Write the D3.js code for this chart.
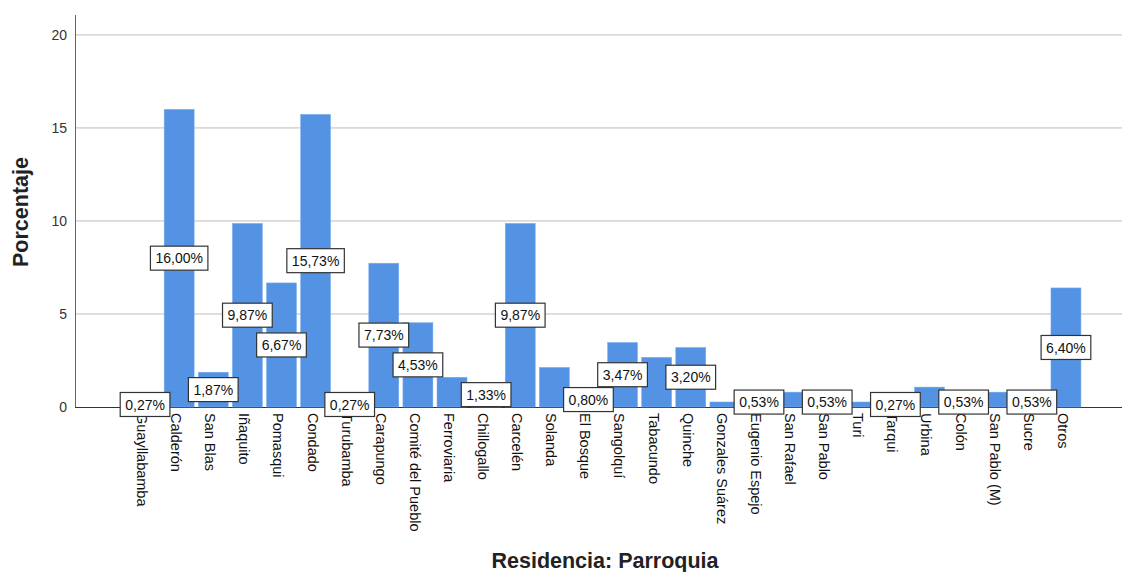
<!DOCTYPE html>
<html><head><meta charset="utf-8">
<script src="https://cdn.jsdelivr.net/npm/d3@7"></script>
<style>body{margin:0;background:#fff;} svg{display:block;font-family:"Liberation Sans",Arial,sans-serif;}</style>
</head><body>
<svg id="c" width="1124" height="572"></svg>
<script>
const categories = ["Guayllabamba","Calderón","San Blas","Iñaquito","Pomasqui","Condado","Turubamba","Carapungo","Comité del Pueblo","Ferroviaria","Chillogallo","Carcelén","Solanda","El Bosque","Sangolquí","Tabacundo","Quinche","Gonzales Suárez","Eugenio Espejo","San Rafael","San Pablo","Turi","Tarqui","Urbina","Colón","San Pablo (M)","Sucre","Otros"];
const values = [0.27,16.00,1.87,9.87,6.67,15.73,0.27,7.73,4.53,1.60,1.33,9.87,2.13,0.80,3.47,2.67,3.20,0.27,0.53,0.80,0.53,0.27,0.27,1.07,0.53,0.80,0.53,6.40];
const showLabel = [1,1,1,1,1,1,1,1,1,0,1,1,0,1,1,0,1,0,1,0,1,0,1,0,1,0,1,1];
const yTicks = [0,5,10,15,20];
const yTitle = "Porcentaje";
const xTitle = "Residencia: Parroquia";

const svg = d3.select("#c");
const x0 = 75, x1 = 1122, yBase = 407, yTop = 15;
const y = d3.scaleLinear().domain([0, 21.07]).range([yBase, yTop]);
const x = d3.scaleBand().domain(categories).range([128, 1083]).paddingInner(0.12).paddingOuter(0.06);

// gridlines
svg.append("g").selectAll("line").data(yTicks.filter(d=>d>0)).join("line")
  .attr("x1", x0).attr("x2", x1).attr("y1", d=>y(d)).attr("y2", d=>y(d))
  .attr("stroke", "#bdbdbd").attr("stroke-width", 1);

// y axis
const ya = svg.append("g").attr("transform", `translate(${x0},0)`)
  .call(d3.axisLeft(y).tickValues(yTicks).tickSize(0).tickPadding(8));
ya.select(".domain").remove();
ya.selectAll("text").attr("font-size", 14).attr("fill", "#333").attr("font-family", "Liberation Sans, Arial, sans-serif");
svg.append("line").attr("x1", x0+0.5).attr("x2", x0+0.5).attr("y1", yTop).attr("y2", yBase)
  .attr("stroke", "#666").attr("stroke-width", 1);

// baseline
svg.append("line").attr("x1", x0).attr("x2", x1).attr("y1", yBase+0.5).attr("y2", yBase+0.5)
  .attr("stroke", "#333").attr("stroke-width", 1);

// bars
svg.append("g").selectAll("rect").data(categories).join("rect")
  .attr("x", d=>x(d)).attr("width", x.bandwidth())
  .attr("y", (d,i)=>y(values[i])).attr("height", (d,i)=>yBase - y(values[i]))
  .attr("fill", "#5493e3").attr("stroke", "#7fb0ee").attr("stroke-width", 0.5);

// category labels
svg.append("g").selectAll("text").data(categories).join("text")
  .attr("transform", d=>`translate(${x(d)+x.bandwidth()/2-3},${yBase+6}) rotate(90)`)
  .attr("dy", "0.35em").attr("text-anchor", "start")
  .attr("font-size", 14.5).attr("fill", "#111").text(d=>d);

// value labels
const lg = svg.append("g");
categories.forEach((c,i)=>{
  if(!showLabel[i]) return;
  const cx = x(c)+x.bandwidth()/2, cy = y(values[i]/2);
  const g = lg.append("g").attr("transform", `translate(${cx},${cy})`);
  const t = g.append("text").attr("text-anchor","middle").attr("dy","0.36em")
    .attr("font-size", 14).attr("fill","#111")
    .text(values[i].toFixed(2).replace(".", ",") + "%");
  const bb = t.node().getBBox();
  g.insert("rect","text").attr("x", -bb.width/2-5).attr("y", -12).attr("width", bb.width+10).attr("height", 24)
    .attr("fill","#fff").attr("stroke","#333").attr("stroke-width",1.2);
});

// titles
svg.append("text").attr("x", 605).attr("y", 568).attr("text-anchor","middle")
  .attr("font-size", 21.5).attr("font-weight","bold").attr("fill","#222").text(xTitle);
svg.append("text").attr("transform", "translate(28,212) rotate(-90)").attr("text-anchor","middle")
  .attr("font-size", 21.5).attr("font-weight","bold").attr("fill","#222").text(yTitle);
</script>
</body></html>
